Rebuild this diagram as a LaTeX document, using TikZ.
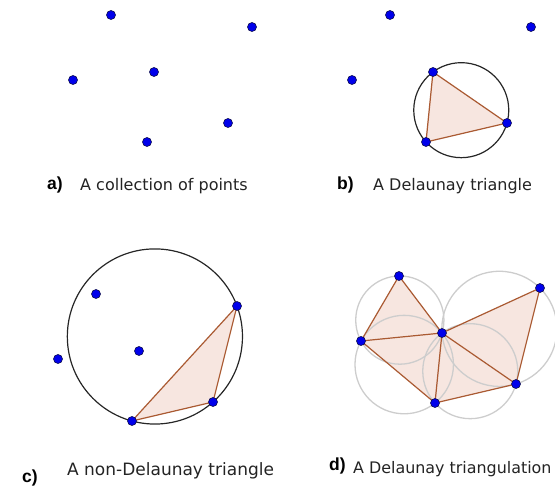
\documentclass[tikz,border=0pt]{standalone}
\usepackage{fontspec}
\setmainfont{DejaVu Sans}
\newfontfamily\labfont{Liberation Sans}
\definecolor{ptblue}{RGB}{0,0,235}
\definecolor{ptedge}{RGB}{15,15,80}
\definecolor{triedge}{RGB}{170,90,50}
\definecolor{trifill}{RGB}{247,230,224}
\definecolor{circgray}{RGB}{205,205,205}
\definecolor{txt}{RGB}{35,35,35}
\begin{document}
\begin{tikzpicture}[x=1pt,y=-1pt,
  pt/.style={circle,fill=ptblue,draw=ptedge,line width=0.6pt,inner sep=0pt,minimum size=9pt},
  trifl/.style={fill=trifill,draw=none},
  triedg/.style={draw=triedge,line width=1.2pt,line cap=round},
  blackcirc/.style={draw=black!85,line width=1.2pt},
  graycirc/.style={draw=circgray,line width=1.3pt},
  captext/.style={anchor=base west,inner sep=0pt,text=txt},
  tagtext/.style={anchor=base west,inner sep=0pt,font=\labfont\bfseries\fontsize{17.5}{19}\selectfont}]
\useasboundingbox (0,0) rectangle (555,486);

% ---------- panel a ----------
\begin{scope}[shift={(0,0)}]
  \node[pt] (aA) at (111,15) {};
  \node[pt] (aB) at (252,27) {};
  \node[pt] (aC) at (73,80) {};
  \node[pt] (aD) at (154,72) {};
  \node[pt] (aE) at (228,123) {};
  \node[pt] (aF) at (147,142) {};
\end{scope}
\node[tagtext] (ta) at (47,189.5) {a)};
\node[captext,font=\fontsize{16}{18}\selectfont] (ca) at (80,190.5) {A collection of points};

% ---------- panel b ----------
\begin{scope}[shift={(279,0)}]
  \coordinate (bD) at (154,72);
  \coordinate (bE) at (228,123);
  \coordinate (bF) at (147,142);
  \fill[trifill] (bD) -- (bE) -- (bF) -- cycle;
  \draw[blackcirc] (182.26,110.18) circle[radius=47.5];
  \draw[triedg] (bD) -- (bE) -- (bF) -- (bD);
  \node[pt] (bA) at (111,15) {};
  \node[pt] (bB) at (252,27) {};
  \node[pt] (bC) at (73,80) {};
  \node[pt] (bDn) at (bD) {};
  \node[pt] (bEn) at (bE) {};
  \node[pt] (bFn) at (bF) {};
\end{scope}
\node[tagtext] (tb) at (337,190) {b)};
\node[captext,font=\fontsize{16}{18}\selectfont] (cb) at (373,190.5) {A Delaunay triangle};

% ---------- panel c ----------
\begin{scope}[shift={(-15,279)}]
  \coordinate (cB) at (252,27);
  \coordinate (cE) at (228,123);
  \coordinate (cF) at (147,142);
  \fill[trifill] (cB) -- (cE) -- (cF) -- cycle;
  \draw[blackcirc] (169.9,57.48) circle[radius=87.57];
  \draw[triedg] (cB) -- (cE) -- (cF) -- (cB);
  \node[pt] (cA) at (111,15) {};
  \node[pt] (cC) at (73,80) {};
  \node[pt] (cD) at (154,72) {};
  \node[pt] (cBn) at (cB) {};
  \node[pt] (cEn) at (cE) {};
  \node[pt] (cFn) at (cF) {};
\end{scope}
\node[tagtext] (tc) at (22,483) {c)};
\node[captext,font=\fontsize{17}{19}\selectfont] (cc) at (67,476) {A non-Delaunay triangle};

% ---------- panel d ----------
\begin{scope}[shift={(288,261)}]
  \coordinate (dA) at (111,15);
  \coordinate (dB) at (252,27);
  \coordinate (dC) at (73,80);
  \coordinate (dD) at (154,72);
  \coordinate (dE) at (228,123);
  \coordinate (dF) at (147,142);
  \fill[trifill] (dA) -- (dD) -- (dB) -- (dE) -- (dF) -- (dC) -- cycle;
  \draw[graycirc] (111.83,59.09) circle[radius=44.1];
  \draw[graycirc] (116.22,103.57) circle[radius=49.23];
  \draw[graycirc] (182.26,110.18) circle[radius=47.5];
  \draw[graycirc] (211.43,67.86) circle[radius=57.58];
  \draw[triedg] (dA) -- (dD) -- (dB) -- (dE) -- (dF) -- (dC) -- (dA);
  \draw[triedg] (dC) -- (dD) -- (dF);
  \draw[triedg] (dD) -- (dE);
  \node[pt] (dAn) at (dA) {};
  \node[pt] (dBn) at (dB) {};
  \node[pt] (dCn) at (dC) {};
  \node[pt] (dDn) at (dD) {};
  \node[pt] (dEn) at (dE) {};
  \node[pt] (dFn) at (dF) {};
\end{scope}
\node[tagtext] (td) at (329,471) {d)};
\node[captext,font=\fontsize{15.9}{18}\selectfont] (cd) at (353,474) {A Delaunay triangulation};
\end{tikzpicture}
\end{document}
